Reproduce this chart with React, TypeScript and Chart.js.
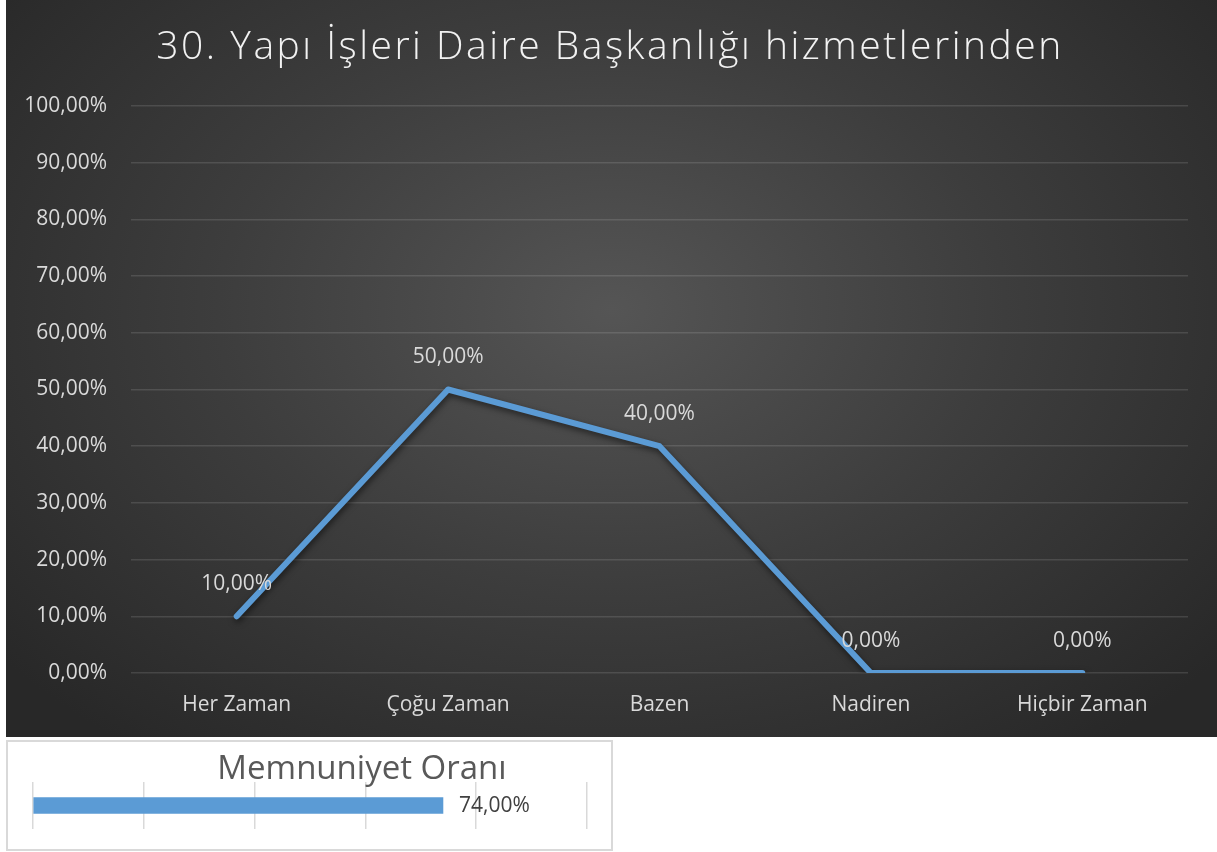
import React, { useEffect, useRef } from "react";
import { Chart, registerables } from "chart.js";

Chart.register(...registerables);

const chartTitle = "30. Yapı İşleri Daire Başkanlığı hizmetlerinden";
const categories = ["Her Zaman", "Çoğu Zaman", "Bazen", "Nadiren", "Hiçbir Zaman"];
const values = [0.1, 0.5, 0.4, 0, 0];

const summaryTitle = "Memnuniyet Oranı";
const summaryCategories = ["Memnuniyet Oranı"];
const summaryValues = [0.74];

const fmtPct = (v: number) => (v * 100).toFixed(2).replace(".", ",") + "%";

const FONT = "'Open Sans', 'Noto Sans', sans-serif";

function MainChart() {
  const ref = useRef<HTMLCanvasElement | null>(null);
  useEffect(() => {
    const canvas = ref.current!;
    const titlePlugin = {
      id: "customTitle",
      afterDraw(chart: any) {
        const ctx = chart.ctx;
        ctx.save();
        ctx.font = `300 39px ${FONT}`;
        (ctx as any).letterSpacing = "2.5px";
        ctx.fillStyle = "#f2f2f2";
        ctx.textAlign = "center";
        ctx.textBaseline = "middle";
        ctx.fillText(chartTitle, 604, 48);
        ctx.restore();
      },
    };
    const labelPlugin = {
      id: "pointLabels",
      afterDatasetsDraw(chart: any) {
        const ctx = chart.ctx;
        const meta = chart.getDatasetMeta(0);
        ctx.save();
        ctx.font = `21px ${FONT}`;
        ctx.fillStyle = "#d9d9d9";
        ctx.textAlign = "center";
        ctx.textBaseline = "middle";
        meta.data.forEach((pt: any, i: number) => {
          ctx.fillText(fmtPct(values[i]), pt.x, pt.y - 32);
        });
        ctx.restore();
      },
    };
    const shadowPlugin = {
      id: "lineShadow",
      beforeDatasetDraw(chart: any) {
        const ctx = chart.ctx;
        ctx.save();
        ctx.shadowColor = "rgba(0,0,0,0.55)";
        ctx.shadowBlur = 6;
        ctx.shadowOffsetX = 1;
        ctx.shadowOffsetY = 3;
      },
      afterDatasetDraw(chart: any) {
        chart.ctx.restore();
      },
    };
    const chart = new Chart(canvas, {
      type: "line",
      data: {
        labels: categories,
        datasets: [
          {
            data: values,
            borderColor: "#5b9bd5",
            borderWidth: 6,
            borderCapStyle: "round",
            borderJoinStyle: "round",
            pointRadius: 0,
            pointHoverRadius: 0,
            tension: 0,
            fill: false,
          },
        ],
      },
      options: {
        responsive: false,
        animation: false,
        events: [],
        layout: { padding: { left: 0, right: 29, top: 106, bottom: 0 } },
        plugins: { legend: { display: false }, title: { display: false }, tooltip: { enabled: false } },
        scales: {
          x: {
            offset: true,
            grid: { display: false, drawTicks: false },
            border: { display: false },
            ticks: { color: "#d9d9d9", font: { size: 21, family: FONT }, padding: 19, maxRotation: 0 },
            afterFit: (s: any) => {
              s.height = 64;
            },
          },
          y: {
            min: 0,
            max: 1,
            grid: { color: "rgba(255,255,255,0.12)", lineWidth: 1.5, drawTicks: false },
            border: { display: false },
            ticks: {
              stepSize: 0.1,
              color: "#d9d9d9",
              font: { size: 21, family: FONT },
              padding: 24,
              callback: (v: any) => fmtPct(Number(v)),
            },
            afterFit: (s: any) => {
              s.width = 125;
            },
          },
        },
      },
      plugins: [shadowPlugin, labelPlugin, titlePlugin],
    } as any);
    return () => chart.destroy();
  }, []);
  return <canvas ref={ref} width={1211} height={737} style={{ display: "block" }} />;
}

function SummaryChart() {
  const ref = useRef<HTMLCanvasElement | null>(null);
  useEffect(() => {
    const canvas = ref.current!;
    const titlePlugin = {
      id: "summaryTitle",
      afterDraw(chart: any) {
        const ctx = chart.ctx;
        ctx.save();
        ctx.font = `33px ${FONT}`;
        ctx.fillStyle = "#595959";
        ctx.textAlign = "center";
        ctx.textBaseline = "middle";
        ctx.fillText(summaryTitle, 354, 28);
        ctx.restore();
      },
    };
    const labelPlugin = {
      id: "barLabel",
      afterDatasetsDraw(chart: any) {
        const ctx = chart.ctx;
        const meta = chart.getDatasetMeta(0);
        ctx.save();
        ctx.font = `21px ${FONT}`;
        ctx.fillStyle = "#404040";
        ctx.textAlign = "left";
        ctx.textBaseline = "middle";
        meta.data.forEach((bar: any, i: number) => {
          ctx.fillText(fmtPct(summaryValues[i]), bar.x + 16, bar.y + 1);
        });
        ctx.restore();
      },
    };
    const chart = new Chart(canvas, {
      type: "bar",
      data: {
        labels: summaryCategories,
        datasets: [
          {
            data: summaryValues,
            backgroundColor: "#5b9bd5",
            barThickness: 16,
          },
        ],
      },
      options: {
        indexAxis: "y",
        responsive: false,
        animation: false,
        events: [],
        layout: { padding: { left: 25, right: 24, top: 40, bottom: 20 } },
        plugins: { legend: { display: false }, title: { display: false }, tooltip: { enabled: false } },
        scales: {
          x: {
            min: 0,
            max: 1,
            ticks: { display: false, stepSize: 0.2 },
            grid: { color: "#d9d9d9", lineWidth: 1.5, drawTicks: false },
            border: { display: false },
          },
          y: {
            display: false,
            grid: { display: false },
          },
        },
      },
      plugins: [labelPlugin, titlePlugin],
    } as any);
    return () => chart.destroy();
  }, []);
  return <canvas ref={ref} width={603} height={107} style={{ display: "block" }} />;
}

export default function App() {
  return (
    <>
      <div
        style={{
          position: "absolute",
          left: 6,
          top: 0,
          width: 1211,
          height: 737,
          background:
            "radial-gradient(ellipse 65% 75% at 50% 42%, #555555 0%, #3d3d3d 50%, #282828 100%)",
        }}
      >
        <MainChart />
      </div>
      <div
        style={{
          position: "absolute",
          left: 6,
          top: 740,
          width: 603,
          height: 107,
          border: "2px solid #d9d9d9",
          background: "#ffffff",
        }}
      >
        <SummaryChart />
      </div>
    </>
  );
}
